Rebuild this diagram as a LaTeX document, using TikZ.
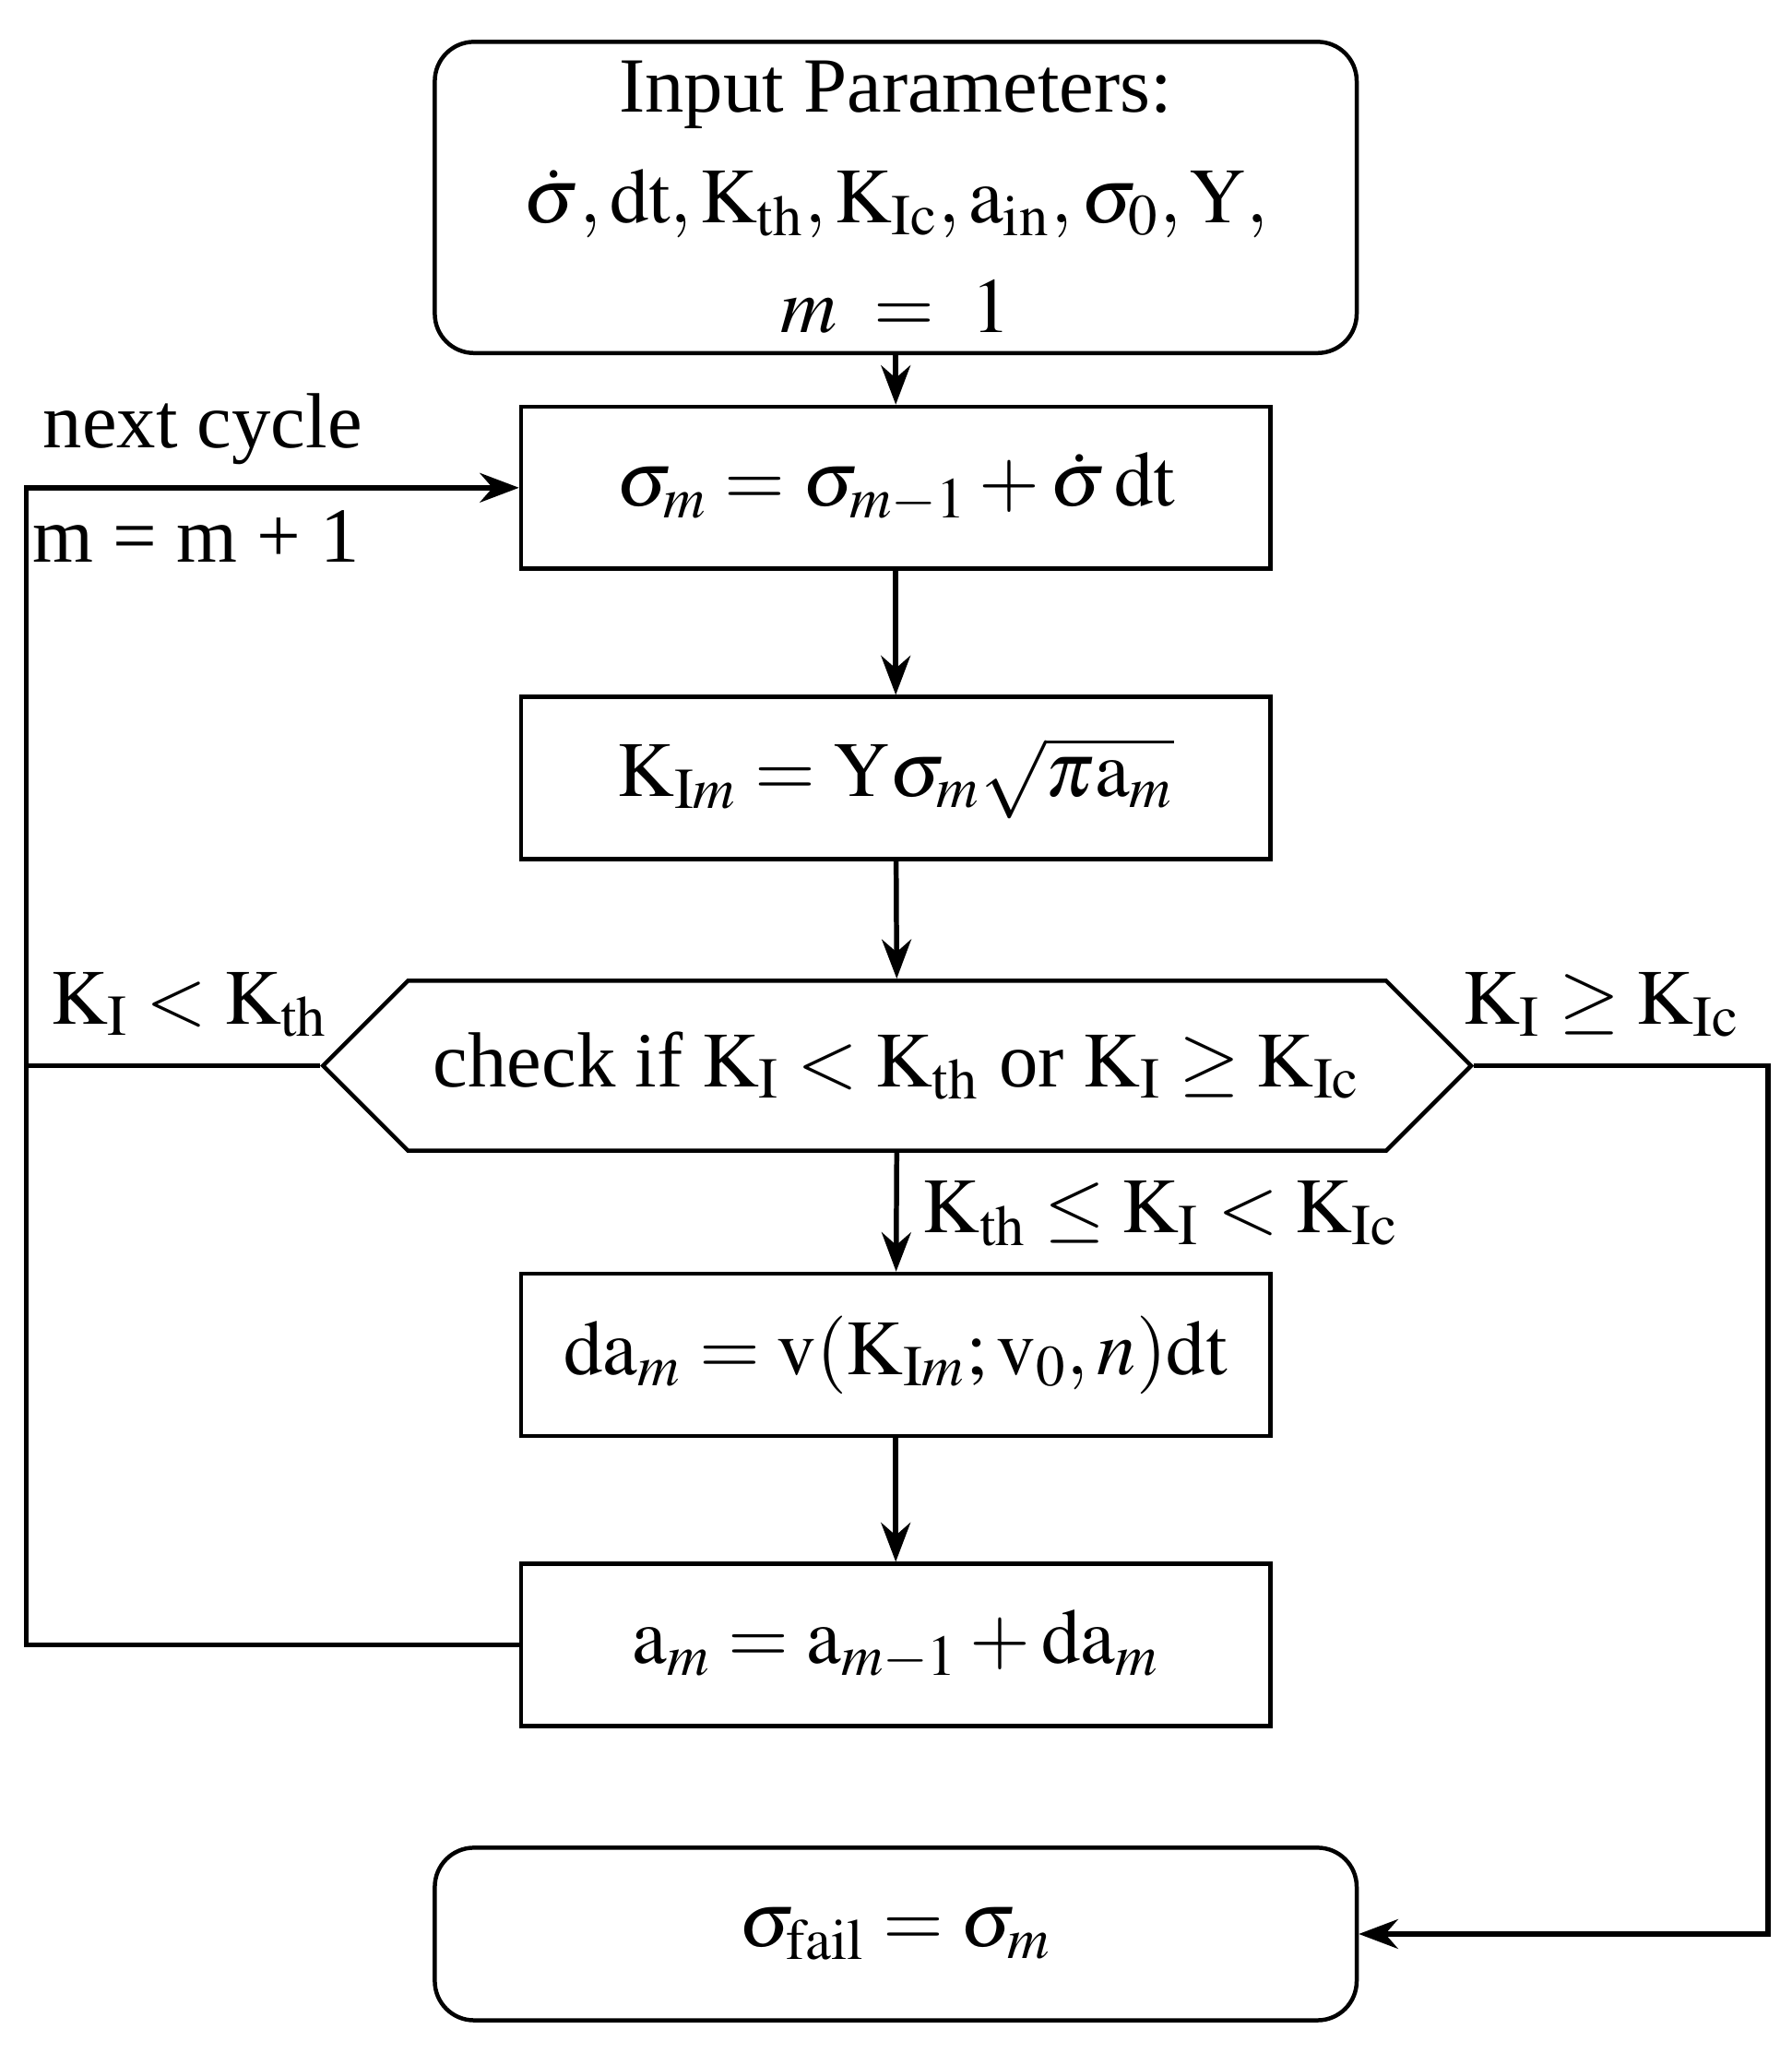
\documentclass[tikz,border=0pt]{standalone}
\usepackage{mathptmx}
\usepackage{fontspec}
\setmainfont{Liberation Serif}
\usetikzlibrary{arrows.meta}
\usetikzlibrary{shapes.symbols}
\tikzset{
    calcbox/.style={draw, line width=0.9pt, minimum width=5.73cm, minimum height=1.24cm},
    endbox/.style={draw, line width=0.9pt, rounded corners=0.3cm, minimum width=7.05cm},
    check/.style={draw, line width=0.9pt, signal, signal to=west and east, signal pointer angle=90, minimum width=8.78cm, minimum height=1.3cm, inner xsep=0pt},
    flow/.style={-{Stealth[length=3mm]}, line width=1.1pt},
}
\begin{document}
\begin{tikzpicture}[font=\fontsize{17}{24}\selectfont]
    \useasboundingbox (0,0) rectangle (13.7,15.7);
    \node[endbox, minimum height=2.38cm, align=center] (input) at (6.85,14.19) {Input\ Parameters:\\ $\dot\sigma,\mathrm{dt},\mathrm{K_{th}},\mathrm{K_{Ic}},\mathrm{a_{in}},\sigma_0,\mathrm{Y},$\\ $m\ =\ 1$};
    \node[calcbox] (sigma) at (6.85,11.97) {$\sigma_m=\sigma_{m-1}+\dot\sigma\,\mathrm{dt}$};
    \node[calcbox] (stress) at (6.85,9.75) {$\mathrm{K}_{\mathrm{I}m}=\mathrm{Y}\sigma_m\sqrt{\pi\mathrm{a}_m}$};
    \node[check] (test) at (6.86,7.55) {check if $\mathrm{K_I}<\mathrm{K_{th}}$ or $\mathrm{K_I}\geq\mathrm{K_{Ic}}$};
    \node[calcbox] (growth) at (6.85,5.34) {$\mathrm{da}_m=\mathrm{v}(\mathrm{K}_{\mathrm{I}m};\mathrm{v}_0,n)\mathrm{dt}$};
    \node[calcbox] (crack) at (6.85,3.12) {$\mathrm{a}_m=\mathrm{a}_{m-1}+\mathrm{da}_m$};
    \node[endbox, minimum height=1.32cm] (fail) at (6.85,0.91) {$\sigma_{\mathrm{fail}}=\sigma_m$};
    \coordinate (loopbot) at (0.2,3.12);
    \coordinate (looptop) at (0.2,11.97);
    \coordinate (looptest) at (0.2,7.55);
    \coordinate (rightup) at (13.52,7.55);
    \coordinate (rightdown) at (13.52,0.91);
    % main line
    \draw[flow] (input) -- (sigma);
    \draw[flow] (sigma) -- (stress);
    \draw[flow] (stress) -- (test);
    \draw[flow] (test) -- (growth);
    \draw[flow] (growth) -- (crack);
    % loops
    \draw[flow] (crack.west) -- (loopbot) -- (looptop) -- (sigma.west);
    \draw[line width=1.1pt] (test.west) -- (looptest);
    \draw[flow] (test.east) -- (rightup) -- (rightdown) -- (fail.east);
    \node (nextlabel) at (1.55,12.42) {next cycle};
    \node (countlabel) at (1.5,11.6) {m = m + 1};
    \node (lowlabel) at (1.45,8.02) {$\mathrm{K_I}<\mathrm{K_{th}}$};
    \node (highlabel) at (12.25,8.02) {$\mathrm{K_I}\geq\mathrm{K_{Ic}}$};
    \node (midlabel) at (8.88,6.42) {$\mathrm{K_{th}}\leq\mathrm{K_I}<\mathrm{K_{Ic}}$};
\end{tikzpicture}
\end{document}
